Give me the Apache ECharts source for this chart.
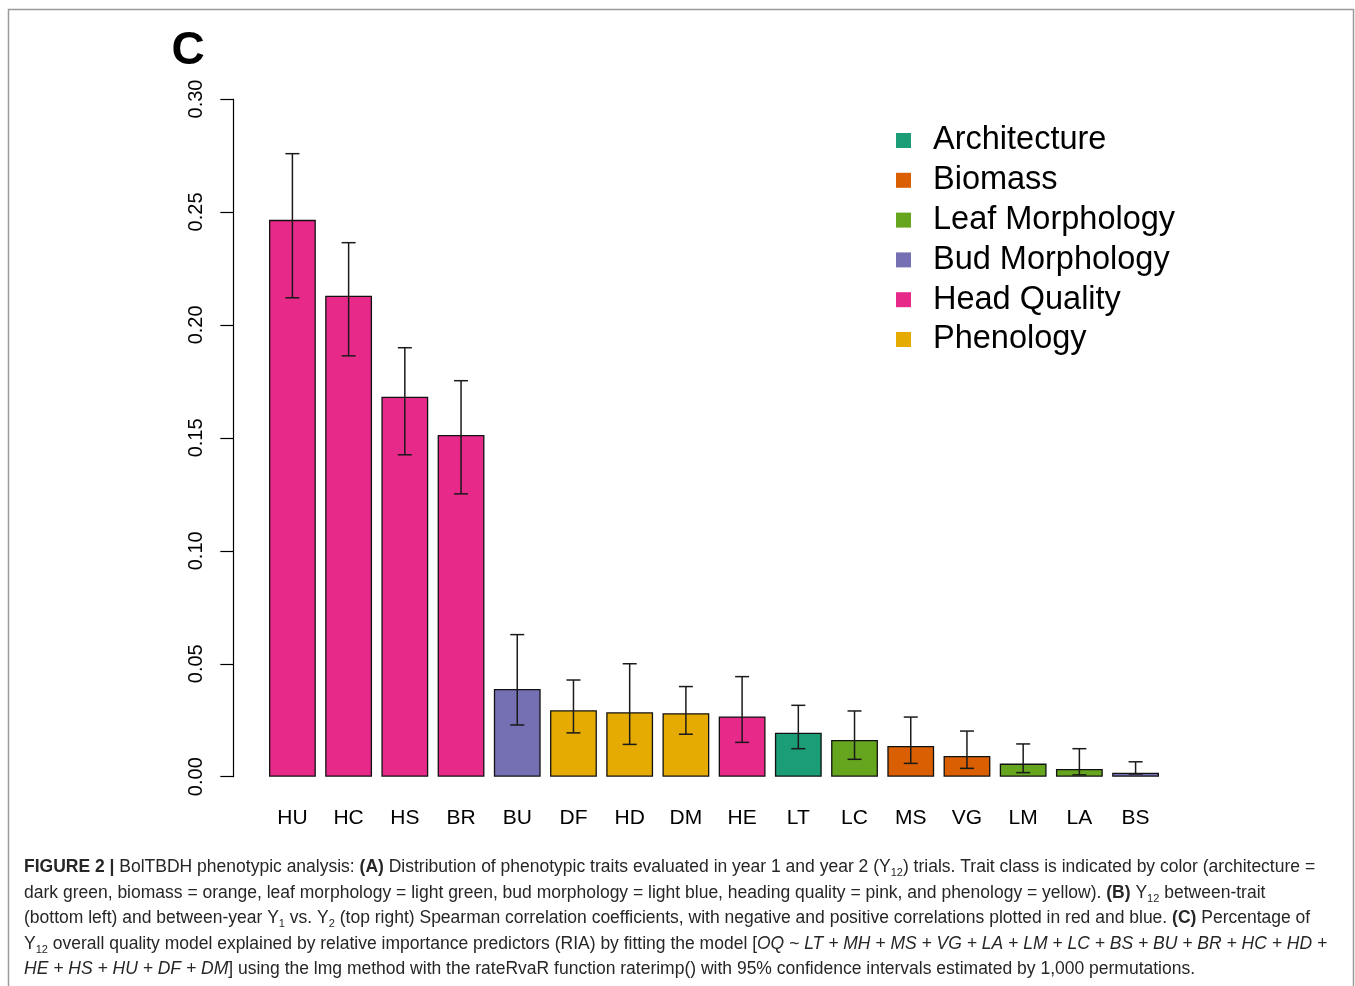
<!DOCTYPE html>
<html>
<head>
<meta charset="utf-8">
<script src="https://cdn.jsdelivr.net/npm/echarts@6/dist/echarts.min.js"></script>
<style>
html,body{margin:0;padding:0;background:#fff;}
#chart{width:1355px;height:986px;}
</style>
</head>
<body>
<div id="chart"></div>
<script>
// ---- data ----
var categories = ['HU','HC','HS','BR','BU','DF','HD','DM','HE','LT','LC','MS','VG','LM','LA','BS'];
var values     = [0.2465,0.2129,0.1682,0.1513,0.0388,0.0294,0.0285,0.0281,0.0267,0.0195,0.0163,0.0136,0.0092,0.0058,0.0034,0.0018];
var lower      = [0.2120,0.1863,0.1425,0.1252,0.0229,0.0194,0.0143,0.0188,0.0152,0.0124,0.0077,0.0059,0.0037,0.0018,0.0008,0.0012];
var upper      = [0.2758,0.2364,0.1899,0.1753,0.0629,0.0428,0.0500,0.0399,0.0443,0.0316,0.0291,0.0264,0.0202,0.0145,0.0124,0.0066];
var traitClass = ['Head Quality','Head Quality','Head Quality','Head Quality','Bud Morphology','Phenology','Phenology','Phenology','Head Quality','Architecture','Leaf Morphology','Biomass','Biomass','Leaf Morphology','Leaf Morphology','Bud Morphology'];
var classNames = ['Architecture','Biomass','Leaf Morphology','Bud Morphology','Head Quality','Phenology'];
var classColors = ['#1B9E77','#D95F02','#66A61E','#7570B3','#E7298A','#E6AB02'];
var yTicks = [0, 0.05, 0.10, 0.15, 0.20, 0.25, 0.30];

var captionLines = [
  '{b|FIGURE 2 |} BolTBDH phenotypic analysis: {b|(A)} Distribution of phenotypic traits evaluated in year 1 and year 2 (Y{s|12}) trials. Trait class is indicated by color (architecture =',
  'dark green, biomass = orange, leaf morphology = light green, bud morphology = light blue, heading quality = pink, and phenology = yellow). {b|(B)} Y{s|12} between-trait',
  '(bottom left) and between-year Y{s|1} vs. Y{s|2} (top right) Spearman correlation coefficients, with negative and positive correlations plotted in red and blue. {b|(C)} Percentage of',
  'Y{s|12} overall quality model explained by relative importance predictors (RIA) by fitting the model [{i|OQ ~ LT + MH + MS + VG + LA + LM + LC + BS + BU + BR + HC + HD +}',
  '{i|HE + HS + HU + DF + DM}] using the lmg method with the rateRvaR function raterimp() with 95% confidence intervals estimated by 1,000 permutations.'
];

// ---- build ----
var FONT = '"Liberation Sans", Arial, Helvetica, sans-serif';
var series = classNames.map(function (name, k) {
  return {
    type: 'bar',
    name: name,
    barGap: '-100%',
    barCategoryGap: '16.7%',
    data: categories.map(function (c, i) { return traitClass[i] === name ? values[i] : '-'; }),
    itemStyle: { color: classColors[k], borderColor: '#111', borderWidth: 1.3 },
    emphasis: { disabled: true },
    z: 2
  };
});
series.push({
  type: 'custom',
  name: 'ci',
  z: 5,
  data: categories.map(function (c, i) { return [i, lower[i], upper[i]]; }),
  renderItem: function (params, api) {
    var lo = api.coord([api.value(0), api.value(1)]);
    var hi = api.coord([api.value(0), api.value(2)]);
    var hw = 7;
    var st = { stroke: '#1a1a1a', lineWidth: 1.5 };
    return {
      type: 'group',
      children: [
        { type: 'line', shape: { x1: lo[0], y1: lo[1], x2: hi[0], y2: hi[1] }, style: st },
        { type: 'line', shape: { x1: lo[0] - hw, y1: lo[1], x2: lo[0] + hw, y2: lo[1] }, style: st },
        { type: 'line', shape: { x1: hi[0] - hw, y1: hi[1], x2: hi[0] + hw, y2: hi[1] }, style: st }
      ]
    };
  }
});

var CAP = 17.5;
var graphics = [
  { type: 'rect', shape: { x: 8.5, y: 9.5, width: 1345, height: 990 }, style: { fill: 'none', stroke: '#9a9a9a', lineWidth: 1.5 }, z: 0 },
  { type: 'text', x: 188, y: 51, style: { text: 'C', font: 'bold 46px ' + FONT, fill: '#000', textAlign: 'center', textVerticalAlign: 'middle' } }
];
var capY = [867, 893, 918, 944, 969];
captionLines.forEach(function (t, i) {
  graphics.push({
    type: 'text', x: 24, y: capY[i],
    style: {
      text: t,
      fontFamily: FONT, fontSize: CAP, fill: '#262626',
      textVerticalAlign: 'middle', lineHeight: 22,
      rich: {
        b: { fontFamily: FONT, fontSize: CAP, fontWeight: 'bold', fill: '#262626', lineHeight: 22 },
        i: { fontFamily: FONT, fontSize: CAP, fontStyle: 'italic', fill: '#262626', lineHeight: 22 },
        s: { fontFamily: FONT, fontSize: 11, fill: '#262626', lineHeight: 11, verticalAlign: 'bottom' }
      }
    }
  });
});

var chart = echarts.init(document.getElementById('chart'), null, { renderer: 'canvas' });
chart.setOption({
  animation: false,
  backgroundColor: '#fff',
  grid: { left: 264.3, right: 191.3, top: 99, bottom: 209.3, containLabel: false },
  xAxis: {
    type: 'category',
    data: categories,
    axisLine: { show: false },
    axisTick: { show: false },
    axisLabel: { fontFamily: FONT, fontSize: 21, color: '#000', margin: 31 }
  },
  yAxis: {
    type: 'value',
    min: yTicks[0], max: yTicks[yTicks.length - 1], interval: 0.05,
    offset: 31,
    axisLine: { show: true, lineStyle: { color: '#000', width: 1.2 } },
    axisTick: { show: true, length: 13, lineStyle: { color: '#000', width: 1.2 } },
    splitLine: { show: false },
    axisLabel: {
      rotate: 90, margin: 27, fontFamily: FONT, fontSize: 20, color: '#000',
      formatter: function (v) { return v.toFixed(2); }
    }
  },
  legend: {
    orient: 'vertical',
    left: 896, top: 124,
    padding: 0,
    data: classNames,
    icon: 'rect',
    itemWidth: 15, itemHeight: 15,
    itemGap: 6.8,
    itemStyle: { borderWidth: 0 },
    selectedMode: false,
    textStyle: { fontFamily: FONT, fontSize: 32.5, color: '#000', lineHeight: 30, padding: [0, 0, 0, 17] }
  },
  graphic: graphics,
  series: series
});
</script>
</body>
</html>
